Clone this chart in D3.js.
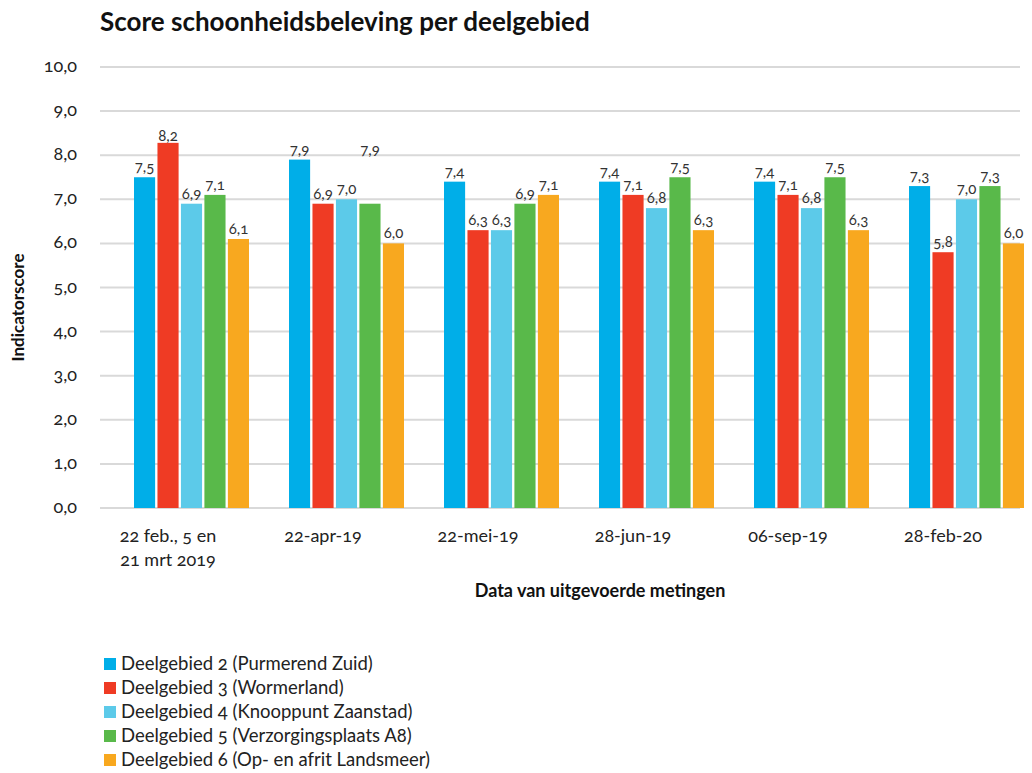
<!DOCTYPE html>
<html>
<head>
<meta charset="utf-8">
<script src="https://cdnjs.cloudflare.com/ajax/libs/d3/7.8.5/d3.min.js"></script>
<style>
	body { margin: 0; background: #fff; }
	svg { font-family: Lato, 'Open Sans', sans-serif; font-variant-numeric: oldstyle-nums; }
</style>
</head>
<body>
<script>
'use strict';

const dates = ['22 feb., 5 en|21 mrt 2019', '22-apr-19', '22-mei-19', '28-jun-19', '06-sep-19', '28-feb-20'];
const seriesNames = [
	'Deelgebied 2 (Purmerend Zuid)',
	'Deelgebied 3 (Wormerland)',
	'Deelgebied 4 (Knooppunt Zaanstad)',
	'Deelgebied 5 (Verzorgingsplaats A8)',
	'Deelgebied 6 (Op- en afrit Landsmeer)'
];
const colors = ['#00aee8', '#ef3b24', '#5ccae9', '#59b94a', '#f8a81f'];

const gebied2 = [7.5, 7.9, 7.4, 7.4, 7.4, 7.3];
const gebied3 = [8.28, 6.9, 6.3, 7.1, 7.1, 5.8];
const gebied4 = [6.9, 7.0, 6.3, 6.8, 6.8, 7.0];
const gebied5 = [7.1, 6.9, 6.9, 7.5, 7.5, 7.3];
const gebied6 = [6.1, 6.0, 7.1, 6.3, 6.3, 6.0];
// labels as printed in the source (gebied 3 rounds down, gebied 5 on 22-apr-19 says 7,9)
const labels3 = [8.2, 6.9, 6.3, 7.1, 7.1, 5.8];
const labels5 = [7.1, 7.9, 6.9, 7.5, 7.5, 7.3];

const yTicks = [0, 1, 2, 3, 4, 5, 6, 7, 8, 9, 10];

const series = [gebied2, gebied3, gebied4, gebied5, gebied6];
const labelSeries = [gebied2, labels3, gebied4, labels5, gebied6];

const fmt = v => d3.format('.1f')(v).replace('.', ',');

const W = 1032, H = 773,
	plotLeft = 100, plotRight = 1020, plotTop = 67, plotBottom = 508;

const svg = d3.select('body').append('svg')
	.attr('width', W)
	.attr('height', H);

const x = d3.scaleBand().domain(d3.range(dates.length)).range([112, 1042]),
	x1 = d3.scaleBand().domain(d3.range(series.length)).range([22, 22 + 115]).paddingInner(0.1),
	y = d3.scaleLinear().domain([0, 10]).range([plotBottom, plotTop]);

svg.append('text')
	.attr('x', 100).attr('y', 31)
	.attr('font-size', 26).attr('font-weight', 700).attr('fill', '#111')
	.text('Score schoonheidsbeleving per deelgebied');

// grid
svg.append('g').selectAll('line').data(yTicks).enter().append('line')
	.attr('x1', plotLeft).attr('x2', plotRight)
	.attr('y1', d => y(d)).attr('y2', d => y(d))
	.attr('stroke', '#d9d9d9').attr('stroke-width', 2);

svg.append('g').selectAll('text').data(yTicks).enter().append('text')
	.attr('x', 77).attr('y', d => y(d) + 5)
	.attr('text-anchor', 'end').attr('font-size', 18).attr('fill', '#222')
	.text(d => fmt(d));

svg.append('text')
	.attr('transform', `translate(24,${(plotTop + plotBottom) / 2 + 20}) rotate(-90)`)
	.attr('text-anchor', 'middle').attr('font-size', 17).attr('font-weight', 700).attr('fill', '#111')
	.text('Indicatorscore');

// bars
const groups = svg.append('g').selectAll('g').data(dates).enter().append('g')
	.attr('transform', (d, i) => `translate(${x(i)},0)`);

series.forEach((s, k) => {
	groups.append('rect')
		.attr('x', x1(k))
		.attr('width', x1.bandwidth())
		.attr('y', (d, i) => y(s[i]))
		.attr('height', (d, i) => y(0) - y(s[i]))
		.attr('fill', colors[k]);
	groups.append('text')
		.attr('x', x1(k) + x1.bandwidth() / 2)
		.attr('y', (d, i) => y(labelSeries[k][i]) - 5)
		.attr('text-anchor', 'middle').attr('font-size', 15).attr('fill', '#333')
		.text((d, i) => fmt(labelSeries[k][i]));
});

// x labels (sit a bit left of the bar groups in the source)
groups.each(function (d) {
	const t = d3.select(this).append('text')
		.attr('x', 56)
		.attr('y', 542)
		.attr('text-anchor', 'middle').attr('font-size', 18).attr('fill', '#222');
	d.split('|').forEach((line, j) => {
		t.append('tspan').attr('x', 56).attr('dy', j ? 24 : 0).text(line);
	});
});

svg.append('text')
	.attr('x', 600).attr('y', 597)
	.attr('text-anchor', 'middle').attr('font-size', 18).attr('font-weight', 700).attr('fill', '#111')
	.text('Data van uitgevoerde metingen');

// legend
const legend = svg.append('g').selectAll('g').data(seriesNames).enter().append('g')
	.attr('transform', (d, i) => `translate(104,${658 + i * 24})`);
legend.append('rect').attr('width', 12).attr('height', 12).attr('fill', (d, i) => colors[i]);
legend.append('text')
	.attr('x', 17).attr('y', 12)
	.attr('font-size', 18.5).attr('fill', '#222')
	.text(d => d);
</script>
</body>
</html>
